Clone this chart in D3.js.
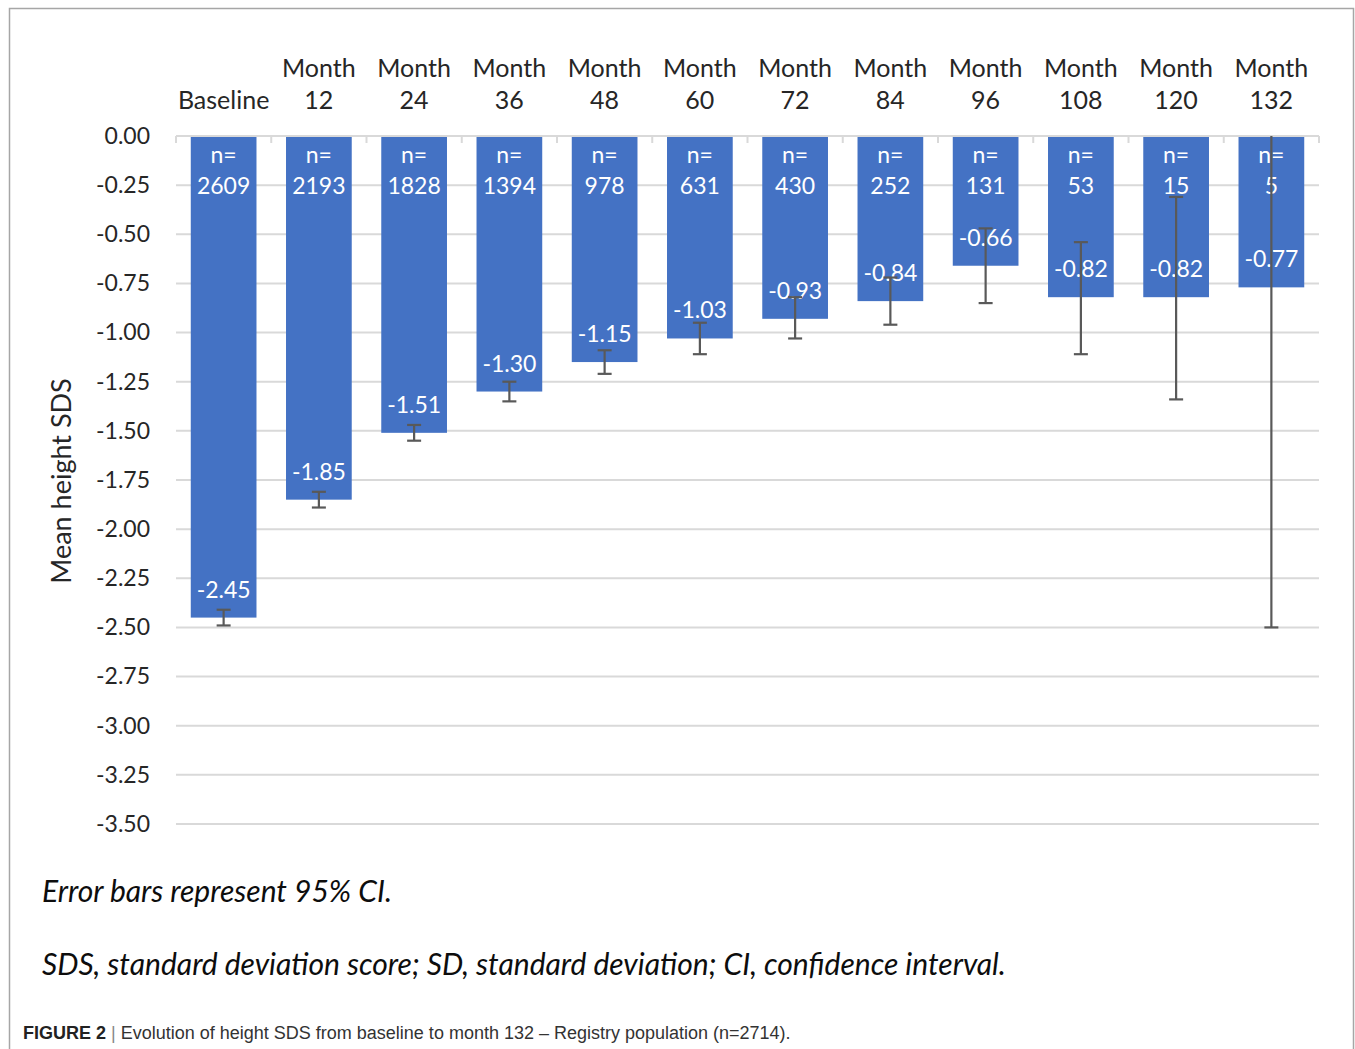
<!DOCTYPE html>
<html>
<head>
<meta charset="utf-8">
<script src="https://cdn.jsdelivr.net/npm/d3@7"></script>
<style>
  html, body { margin: 0; padding: 0; background: #fff; }
  svg { display: block; }
</style>
</head>
<body>
<svg id="chart" width="1355" height="1049"></svg>
<script>
// Visits and summary statistics for mean height SDS
const categories = ["Baseline", "Month 12", "Month 24", "Month 36", "Month 48", "Month 60",
                    "Month 72", "Month 84", "Month 96", "Month 108", "Month 120", "Month 132"];
const meanSDS   = [-2.45, -1.85, -1.51, -1.30, -1.15, -1.03, -0.93, -0.84, -0.66, -0.82, -0.82, -0.77];
const ciLow     = [-2.49, -1.89, -1.55, -1.35, -1.21, -1.11, -1.03, -0.96, -0.85, -1.11, -1.34, -2.50];
const ciHigh    = [-2.41, -1.81, -1.47, -1.25, -1.09, -0.95, -0.82, -0.72, -0.47, -0.54, -0.31, 0.96];
const nPatients = [2609, 2193, 1828, 1394, 978, 631, 430, 252, 131, 53, 15, 5];
const yTicks    = [0, -0.25, -0.5, -0.75, -1, -1.25, -1.5, -1.75, -2, -2.25, -2.5, -2.75, -3, -3.25, -3.5];

const FONT = "Lato, 'Open Sans', sans-serif";
const BAR = "#4472C4";
const GRID = "#D9D9D9";
const ERR = "#595959";

// two decimals, plain hyphen for negatives
const fmt = v => d3.format(".2f")(v).replace("\u2212", "-");

const svg = d3.select("#chart");

// outer frame
svg.append("path")
  .attr("d", "M9.5,1049 V8.5 H1353.5 V1049")
  .attr("fill", "none").attr("stroke", "#a6a6a6").attr("stroke-width", 1.5);

const plot = { left: 176, right: 1319, top: 136, bottom: 824 };

const x = d3.scaleBand()
  .domain(categories)
  .range([plot.left, plot.right])
  .paddingInner(0.31)
  .paddingOuter(0.155);

const y = d3.scaleLinear()
  .domain([0, -3.5])
  .range([plot.top, plot.bottom])
  .clamp(true);

const data = categories.map((c, i) => ({
  cat: c, mean: meanSDS[i], lo: ciLow[i], hi: ciHigh[i], n: nPatients[i]
}));

// horizontal gridlines
svg.append("g").selectAll("line")
  .data(yTicks.filter(t => t !== 0))
  .join("line")
  .attr("x1", plot.left).attr("x2", plot.right)
  .attr("y1", d => y(d)).attr("y2", d => y(d))
  .attr("stroke", GRID).attr("stroke-width", 2);

// y tick labels
const yAxis = d3.axisLeft(y).tickValues(yTicks).tickFormat(fmt).tickSize(0).tickPadding(0);
const gy = svg.append("g").attr("transform", `translate(${plot.left - 26},0)`).call(yAxis);
gy.select(".domain").remove();
gy.selectAll("text")
  .attr("font-family", FONT).attr("font-size", 23).attr("fill", "#262626");

// y axis title
svg.append("text")
  .attr("transform", `translate(71,${(plot.top + plot.bottom) / 2 + 1}) rotate(-90)`)
  .attr("text-anchor", "middle")
  .attr("font-family", FONT).attr("font-size", 27).attr("fill", "#262626")
  .text("Mean height SDS");

// bars
svg.append("g").selectAll("rect")
  .data(data)
  .join("rect")
  .attr("x", d => x(d.cat))
  .attr("width", x.bandwidth())
  .attr("y", y(0))
  .attr("height", d => y(d.mean) - y(0))
  .attr("fill", BAR);

// top category axis line with boundary ticks
const step = x.step();
const gap = step - x.bandwidth();
svg.append("line")
  .attr("x1", plot.left).attr("x2", plot.right)
  .attr("y1", y(0)).attr("y2", y(0))
  .attr("stroke", GRID).attr("stroke-width", 2);
const bounds = categories.map(c => x(c) - gap / 2).concat([x(categories[categories.length - 1]) + x.bandwidth() + gap / 2]);
svg.append("g").selectAll("line")
  .data(bounds)
  .join("line")
  .attr("x1", d => d).attr("x2", d => d)
  .attr("y1", y(0)).attr("y2", y(0) + 7)
  .attr("stroke", GRID).attr("stroke-width", 2);

// category labels above the plot
const catG = svg.append("g").attr("font-family", FONT).attr("font-size", 25)
  .attr("fill", "#262626").attr("text-anchor", "middle");
data.forEach(d => {
  const cx = x(d.cat) + x.bandwidth() / 2;
  const parts = d.cat.split(" ");
  if (parts.length === 1) {
    catG.append("text").attr("x", cx).attr("y", 109).text(parts[0]);
  } else {
    catG.append("text").attr("x", cx).attr("y", 77).text(parts[0]);
    catG.append("text").attr("x", cx).attr("y", 109).text(parts[1]);
  }
});

// n labels inside bars
const nG = svg.append("g").attr("font-family", FONT).attr("font-size", 23)
  .attr("fill", "#fff").attr("text-anchor", "middle");
data.forEach(d => {
  const cx = x(d.cat) + x.bandwidth() / 2;
  nG.append("text").attr("x", cx).attr("y", y(0) + 27).text("n=");
  nG.append("text").attr("x", cx).attr("y", y(0) + 58).text(d.n);
});

// value labels at the inside end of each bar
svg.append("g").attr("font-family", FONT).attr("font-size", 23)
  .attr("fill", "#fff").attr("text-anchor", "middle")
  .selectAll("text")
  .data(data)
  .join("text")
  .attr("x", d => x(d.cat) + x.bandwidth() / 2)
  .attr("y", d => y(d.mean) - 20)
  .text(d => fmt(d.mean));

// 95% CI error bars
const capW = 7;
const eg = svg.append("g").attr("stroke", ERR).attr("stroke-width", 2.2).attr("fill", "none");
data.forEach(d => {
  const cx = x(d.cat) + x.bandwidth() / 2;
  eg.append("line").attr("x1", cx).attr("x2", cx).attr("y1", y(d.hi)).attr("y2", y(d.lo));
  [d.lo, d.hi].forEach(v => {
    if (v <= 0 && v >= -3.5) {
      eg.append("line").attr("x1", cx - capW).attr("x2", cx + capW)
        .attr("y1", y(v)).attr("y2", y(v));
    }
  });
});

// footnotes
const fn = svg.append("g").attr("font-family", FONT).attr("font-style", "italic")
  .attr("font-size", 30).attr("fill", "#0d0d0d");
fn.append("text").attr("x", 42).attr("y", 902).text("Error bars represent 95% CI.");
fn.append("text").attr("x", 42).attr("y", 975)
  .text("SDS, standard deviation score; SD, standard deviation; CI, confidence interval.");

// figure caption
const cap = svg.append("text").attr("x", 23).attr("y", 1039)
  .attr("font-family", "'Liberation Sans', Arial, sans-serif").attr("font-size", 18).attr("fill", "#333");
cap.append("tspan").attr("font-weight", "bold").attr("fill", "#222").text("FIGURE 2");
cap.append("tspan").attr("fill", "#888").text(" | ");
cap.append("tspan").text("Evolution of height SDS from baseline to month 132 \u2013 Registry population (n=2714).");
</script>
</body>
</html>
